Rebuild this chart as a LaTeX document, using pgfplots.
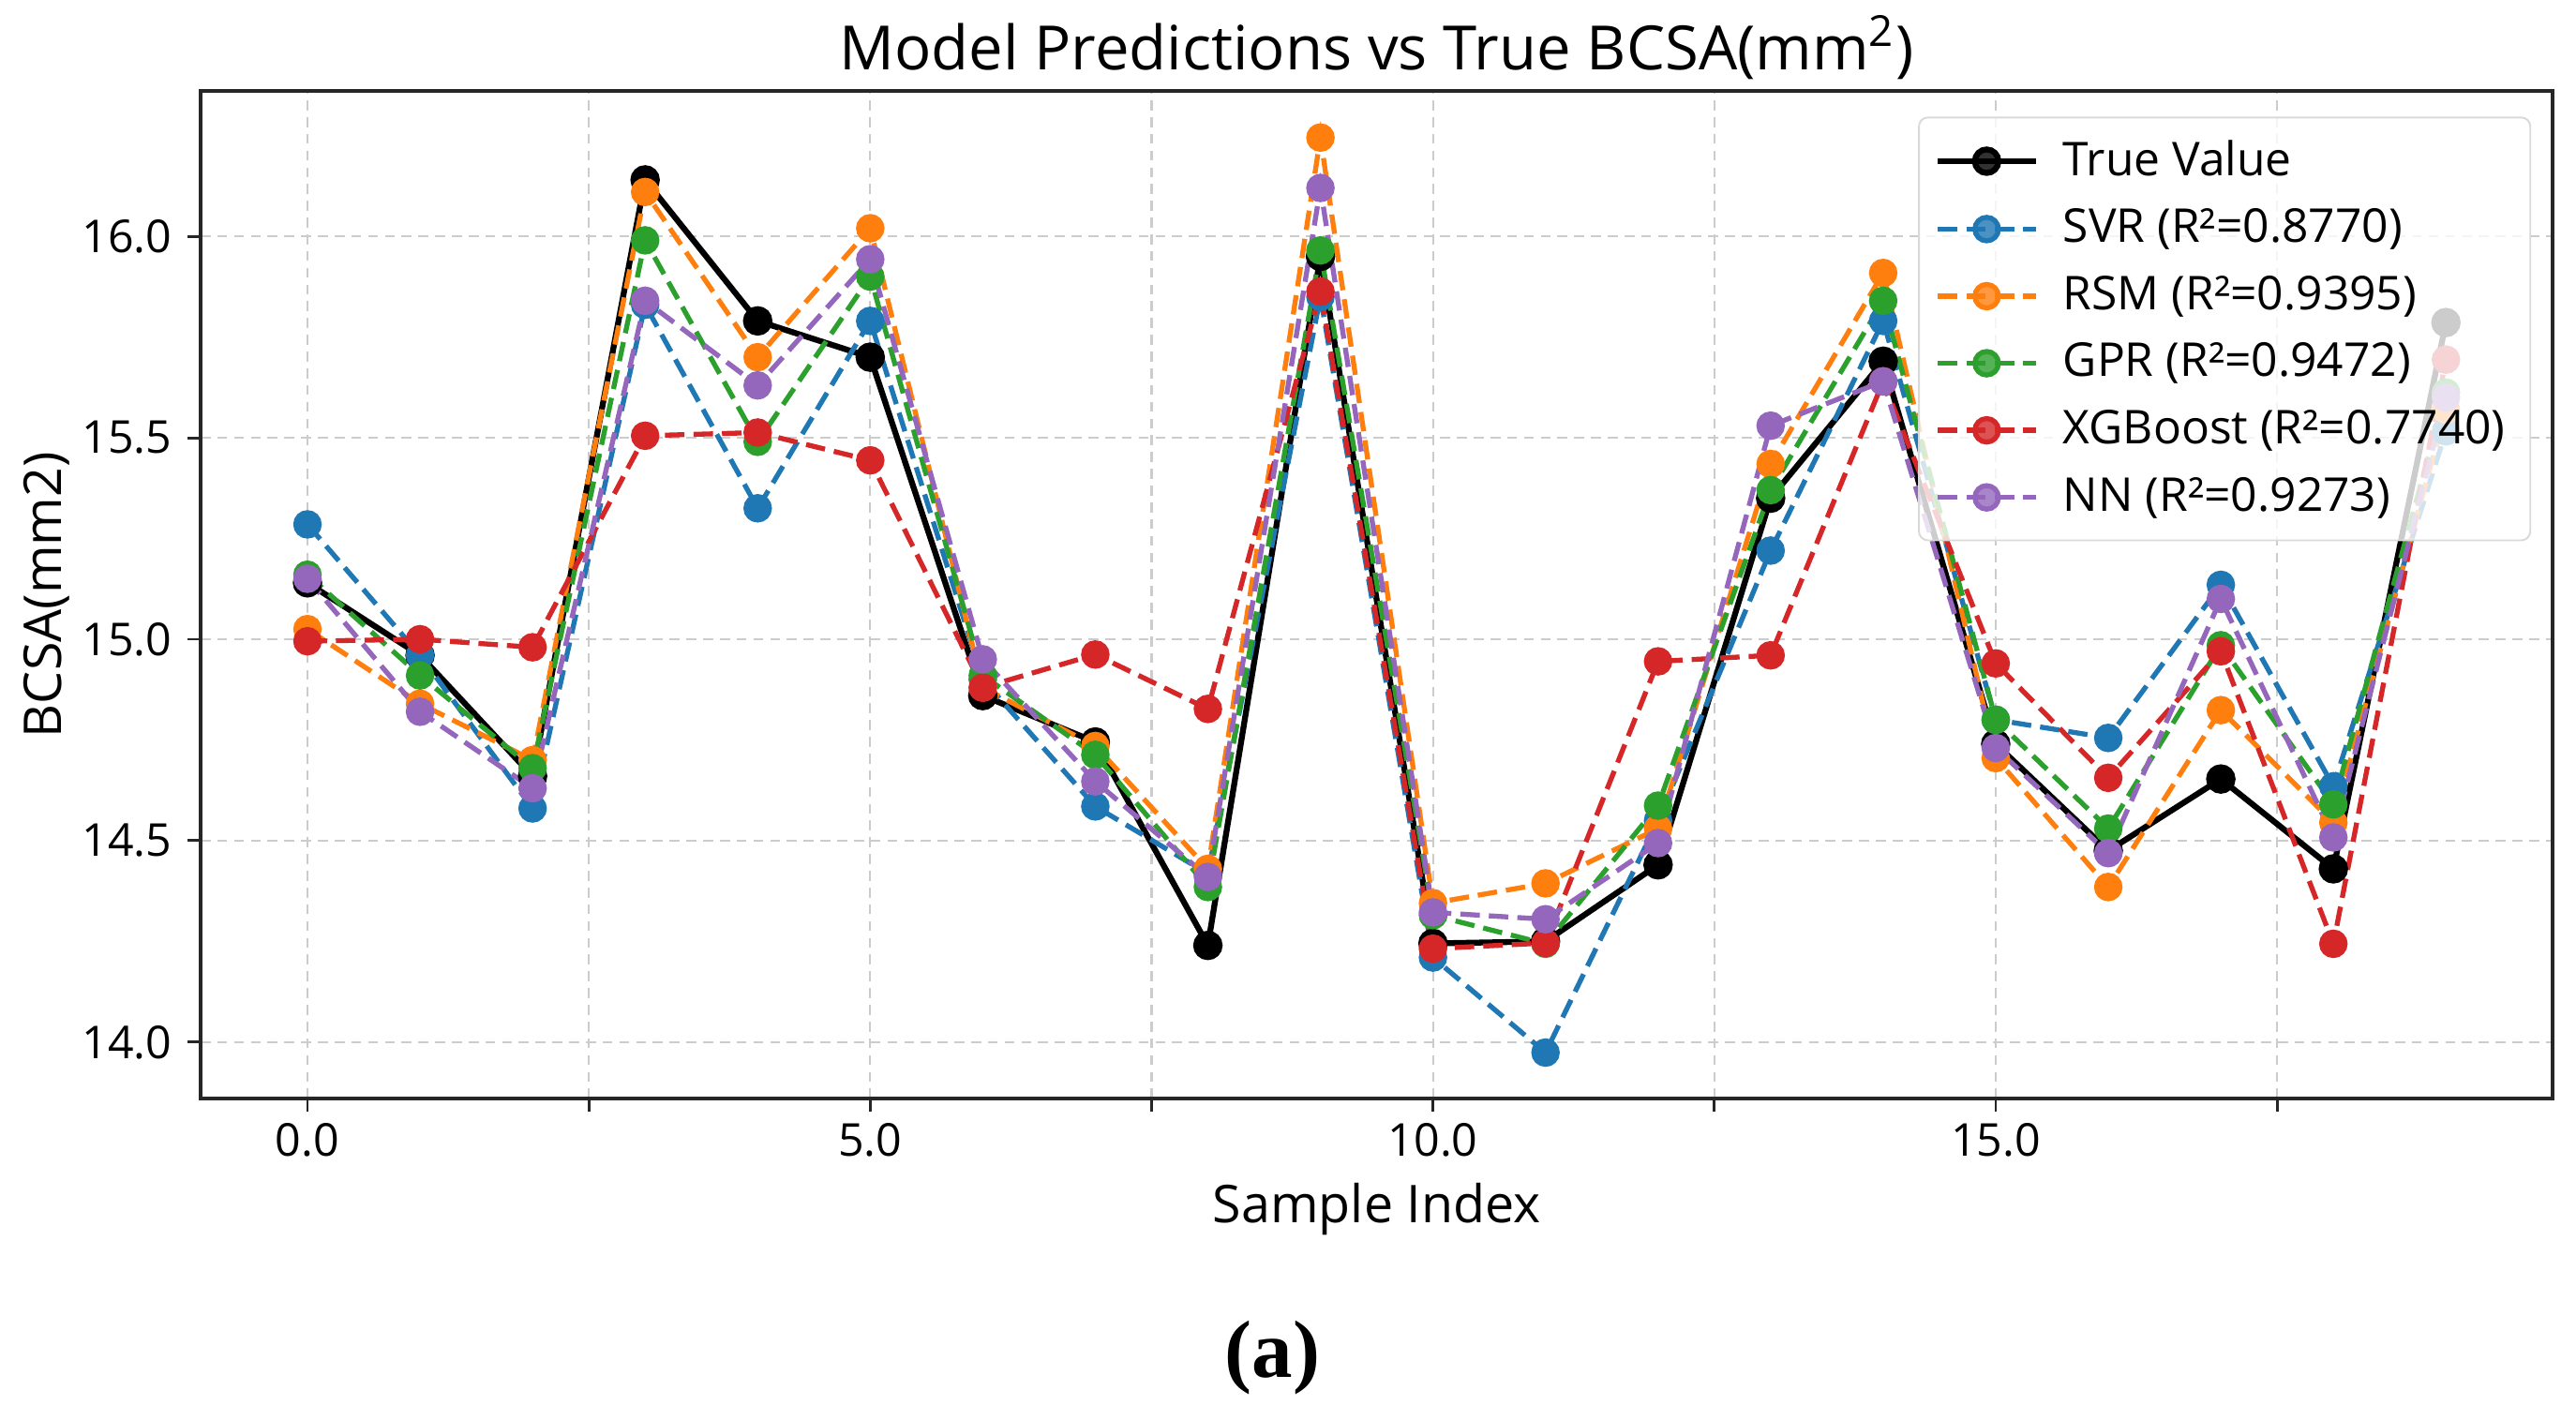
\documentclass[border=0pt]{standalone}
\usepackage{fontspec}
\setmainfont{Open Sans}
\newfontfamily\capfont{Liberation Serif}
\usepackage{pgfplots}
\usepackage{pgfplotstable}
\pgfplotsset{compat=1.18}

\definecolor{tabblue}{HTML}{1F77B4}
\definecolor{taborange}{HTML}{FF7F0E}
\definecolor{tabgreen}{HTML}{2CA02C}
\definecolor{tabred}{HTML}{D62728}
\definecolor{tabpurple}{HTML}{9467BD}

% sample index, true value and the five model predictions
\pgfplotstableread{
idx true   svr    rsm    gpr    xgb    nn
0   15.140 15.285 15.025 15.160 14.995 15.150
1   14.960 14.960 14.840 14.910 15.000 14.820
2   14.660 14.580 14.700 14.680 14.980 14.630
3   16.140 15.830 16.110 15.990 15.505 15.840
4   15.790 15.325 15.700 15.490 15.513 15.630
5   15.700 15.790 16.020 15.900 15.444 15.943
6   14.860 14.900 14.880 14.910 14.880 14.950
7   14.745 14.585 14.735 14.713 14.962 14.647
8   14.240 14.418 14.430 14.385 14.827 14.410
9   15.950 15.850 16.245 15.965 15.863 16.120
10  14.245 14.210 14.345 14.315 14.232 14.322
11  14.250 13.974 14.394 14.244 14.246 14.305
12  14.440 14.550 14.530 14.587 14.945 14.494
13  15.350 15.220 15.435 15.370 14.960 15.530
14  15.690 15.790 15.909 15.840 15.640 15.640
15  14.740 14.800 14.705 14.800 14.940 14.730
16  14.475 14.755 14.385 14.530 14.656 14.469
17  14.653 15.135 14.824 14.985 14.970 15.100
18  14.430 14.635 14.545 14.590 14.244 14.508
19  15.786 15.516 15.570 15.612 15.694 15.600
}\bcsa

\begin{document}
\begin{tikzpicture}
\begin{axis}[
  scale only axis, width=18.26cm, height=7.82cm,
  xmin=-0.95, xmax=19.95, ymin=13.86, ymax=16.36,
  xtick={0,2.5,...,17.5}, xticklabels={0.0,,5.0,,10.0,,15.0,},
  ytick={14,14.5,...,16}, yticklabels={14.0,14.5,15.0,15.5,16.0},
  /pgf/number format/assume math mode=true,
  tick pos=left, tick align=outside, major tick length=0.1cm,
  tick style={black!85, line width=0.6pt},
  axis line style={black!85, line width=0.8pt},
  grid=major, grid style={black!20, line width=0.45pt, dash pattern=on 2.2pt off 1.5pt},
  ticklabel style={font=\fontsize{10}{12}\selectfont},
  xticklabel style={yshift=1pt},
  xlabel={Sample Index},
  xlabel style={font=\fontsize{11.5}{13}\selectfont, at={(axis description cs:0.5,-0.1229)}, anchor=base},
  ylabel={BCSA(mm2)},
  ylabel style={font=\fontsize{11.5}{13}\selectfont, at={(axis description cs:-0.0593,0.5)}, anchor=base},
  legend style={at={(0.9908,0.9749)}, anchor=north east, draw=black!15, rounded corners=2pt,
    fill=white, fill opacity=0.8, text opacity=1, draw opacity=1,
    font=\fontsize{10.3}{12}\selectfont, row sep=0.065cm, inner xsep=3.5pt, inner ysep=3pt,
    /tikz/every odd column/.append style={column sep=0.12cm}},
  legend cell align=left,
  legend image code/.code={\draw[mark repeat=2,mark phase=2] plot coordinates {(0cm,0cm) (0.38cm,0cm) (0.76cm,0cm)};},
  every axis plot/.append style={line width=1.1pt, mark=*, mark size=2.6pt},
]
\addplot[black, solid, line width=1.3pt, mark options={solid}] table[x=idx, y=true] {\bcsa};
\addlegendentry{True Value}
\addplot[tabblue, dash pattern=on 4.3pt off 2pt, mark options={solid}] table[x=idx, y=svr] {\bcsa};
\addlegendentry{SVR (R²=0.8770)}
\addplot[taborange, dash pattern=on 4.3pt off 2pt, mark options={solid}] table[x=idx, y=rsm] {\bcsa};
\addlegendentry{RSM (R²=0.9395)}
\addplot[tabgreen, dash pattern=on 4.3pt off 2pt, mark options={solid}] table[x=idx, y=gpr] {\bcsa};
\addlegendentry{GPR (R²=0.9472)}
\addplot[tabred, dash pattern=on 4.3pt off 2pt, mark options={solid}] table[x=idx, y=xgb] {\bcsa};
\addlegendentry{XGBoost (R²=0.7740)}
\addplot[tabpurple, dash pattern=on 4.3pt off 2pt, mark options={solid}] table[x=idx, y=nn] {\bcsa};
\addlegendentry{NN (R²=0.9273)}
\coordinate (ttl) at (axis description cs:0.5,1.0214);
\coordinate (capt) at (axis description cs:0.4557,-0.2765);
\coordinate (bbsw) at (axis description cs:-0.08527,-0.31829);
\coordinate (bbne) at (axis description cs:1.00986,1.08465);
\end{axis}
\node[font=\fontsize{13.5}{16}\selectfont, anchor=base] at (ttl) {Model Predictions vs True BCSA(mm\textsuperscript{2})};
\node[font=\capfont\bfseries\fontsize{18}{20}\selectfont, anchor=base] at (capt) {(a)};
\path (bbsw) rectangle (bbne);
\end{tikzpicture}
\end{document}
